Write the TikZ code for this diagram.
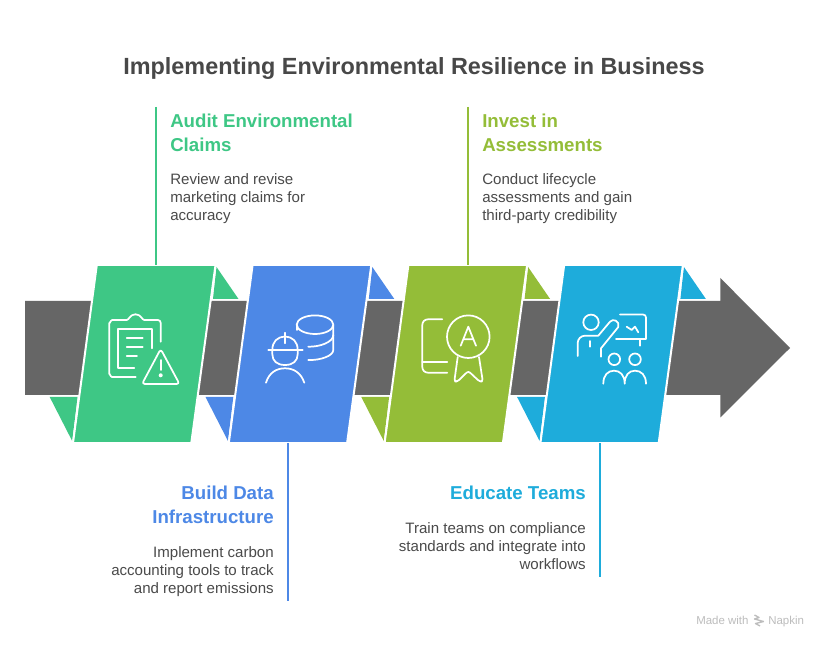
\documentclass[tikz,border=0pt]{standalone}
\usepackage{fontspec}
\setmainfont{Liberation Sans}
\definecolor{cgreen}{HTML}{3EC785}
\definecolor{cblue}{HTML}{4D88E6}
\definecolor{colive}{HTML}{94BD38}
\definecolor{ccyan}{HTML}{1EACDB}
\definecolor{cgray}{HTML}{666666}
\definecolor{ctitle}{HTML}{484848}
\definecolor{cbody}{HTML}{4A4A4A}
\definecolor{cmark}{HTML}{BDBDBD}
\newcommand{\hstrut}{\rule{0pt}{12pt}}
\newcommand{\bstrut}{\rule{0pt}{10pt}}
\tikzset{
  heading/.style={inner sep=0pt,font=\bfseries\fontsize{14pt}{18pt}\selectfont},
  headL/.style={heading,anchor=north west,align=left},
  headR/.style={heading,anchor=north east,align=right},
  bodytext/.style={inner sep=0pt,text=cbody,font=\fontsize{11.3pt}{13.5pt}\selectfont},
  bodyL/.style={bodytext,anchor=north west,align=left},
  bodyR/.style={bodytext,anchor=north east,align=right},
  leader/.style={line width=1.5pt},
  panel/.style={draw=white,line width=1.5pt,line join=miter},
  icon/.style={draw=white,line width=1.3pt,line cap=round,line join=round,fill=none},
  mark text/.style={inner sep=0pt,anchor=base west,text=cmark,font=\fontsize{8.6pt}{10pt}\selectfont},
}
\begin{document}
\begin{tikzpicture}[x=0.75pt,y=-0.75pt]
\useasboundingbox (0,0) rectangle (828,648);
\fill[white] (0,0) rectangle (828,648);
\node[inner sep=0pt,text=ctitle,font=\bfseries\fontsize{17.55pt}{22pt}\selectfont] (title) at (414,68.5) {Implementing Environmental Resilience in Business};

% arrow
\fill[cgray] (25,301) -- (720.3,301) -- (720.3,278) -- (790,348) -- (720.3,417.5) -- (720.3,395) -- (25,395) -- cycle;

% fold triangles and panels
\foreach \c/\d in {cgreen/0,cblue/155.8,colive/311.6,ccyan/467.4}{
  \fill[\c] (216.5+\d,267) -- (238.5+\d,299) -- (213+\d,299) -- cycle;
  \fill[\c] (49.7+\d,397) -- (77.5+\d,397) -- (72.2+\d,441) -- cycle;
  \draw[panel,fill=\c] (96.8+\d,265) -- (215.5+\d,265) -- (191.3+\d,443) -- (73+\d,443) -- cycle;
}

% connector ends
\coordinate (a1) at (156,107); \coordinate (a2) at (156,265);
\coordinate (b1) at (288,443); \coordinate (b2) at (288,600.5);
\coordinate (c1) at (468,107); \coordinate (c2) at (468,265);
\coordinate (d1) at (600,443); \coordinate (d2) at (600,576.5);
\draw[leader,cgreen] (a1) -- (a2);
\draw[leader,cblue] (b1) -- (b2);
\draw[leader,colive] (c1) -- (c2);
\draw[leader,ccyan] (d1) -- (d2);

% texts
\node[headL,text=cgreen] (ah) at (170,111) {\hstrut Audit Environmental\\\hstrut Claims};
\node[bodyL] (ab) at (170,170.5) {\bstrut Review and revise\\\bstrut marketing claims for\\\bstrut accuracy};
\node[headL,text=colive] (ch) at (482,111) {\hstrut Invest in\\\hstrut Assessments};
\node[bodyL] (cb) at (482,170.5) {\bstrut Conduct lifecycle\\\bstrut assessments and gain\\\bstrut third-party credibility};
\node[headR,text=cblue] (bh) at (274,483) {\hstrut Build Data\\\hstrut Infrastructure};
\node[bodyR] (bb) at (274,543.5) {\bstrut Implement carbon\\\bstrut accounting tools to track\\\bstrut and report emissions};
\node[headR,text=ccyan] (dh) at (586,483) {\hstrut Educate Teams};
\node[bodyR] (db) at (586,519.5) {\bstrut Train teams on compliance\\\bstrut standards and integrate into\\\bstrut workflows};

% icon 1
\draw[icon] (135.7,377) -- (112,377) to[out=180,in=90] (109.3,374) -- (109.3,323) to[out=-90,in=180] (112.3,320) -- (126.7,320) .. controls (129,320) and (130,314.3) .. (135.5,314.3) .. controls (141,314.3) and (142,320) .. (144.3,320) -- (158,320) to[out=0,in=90] (160.7,323) -- (160.7,341.7);
\draw[icon] (134.3,368.3) -- (118.3,368.3) -- (118.3,329) -- (152.3,329) -- (152.3,348.3);
\draw[icon] (126.7,338.3) -- (142.7,338.3) (126.7,347) -- (142.7,347) (126.7,356.3) -- (137,356.3);
\draw[icon,rounded corners=2.2pt] (160.7,349) -- (179.5,384) -- (142,384) -- cycle;
\draw[icon] (160.7,360) -- (160.7,370);
\fill[white] (160.7,375.3) circle[radius=2];

% icon 2
\draw[icon] (315,324.7) ellipse[x radius=18.3,y radius=9.3];
\draw[icon] (296.7,325) -- (296.7,330);
\draw[icon] (333.3,325) -- (333.3,350) .. controls (333.3,356) and (320,360.5) .. (308.3,360);
\draw[icon] (333.3,335) .. controls (333.3,342) and (320,347) .. (308.3,346.7);
\draw[icon] (272.3,350) .. controls (272.3,342) and (277,336.7) .. (285,336.7) .. controls (293,336.7) and (297.7,342) .. (297.7,350) -- (297.7,354) .. controls (297.7,361) and (293,365) .. (285,365) .. controls (277,365) and (272.3,361) .. (272.3,354) -- cycle;
\draw[icon] (268.3,350) -- (302.7,350) (285,332.7) -- (285,343.3);
\draw[icon] (266,382.7) .. controls (269,373) and (276,368.3) .. (285,368.3) .. controls (294,368.3) and (301,373) .. (304.3,382.7);

% icon 3
\draw[icon] (442.3,319.3) -- (428,319.3) to[out=180,in=90] (422.3,325) -- (422.3,367) to[out=-90,in=180] (428,372.7) -- (447.3,372.7);
\draw[icon] (422.3,361.7) -- (447.3,361.7);
\draw[icon] (468.3,336.7) circle[radius=21.3];
\draw[icon] (460.7,345.7) -- (468.3,326.7) -- (476,345.7) (463.2,339.3) -- (473.5,339.3);
\draw[icon,rounded corners=1.8pt] (457.7,357) -- (454.3,381.5) -- (457.5,381.5) -- (468.3,371) -- (479.5,381.5) -- (482.8,381.5) -- (479,357);

% icon 4
\draw[icon] (591,322.3) circle[radius=7.7];
\draw[icon] (577.7,356) -- (577.7,343) to[out=90,in=180] (585,335.7) -- (598.3,335.7) -- (610,321.7) .. controls (613,318) and (620,321) .. (618.3,327) -- (601,348.3) -- (601,356.7);
\draw[icon] (590,341) -- (590,346.7);
\draw[icon] (620,314.5) -- (643,314.5) to[out=0,in=90] (646,317.5) -- (646,339) -- (616,339);
\draw[icon] (640,339) -- (640,345.7);
\draw[icon] (626.7,326.7) -- (631.7,330) -- (635,326.7) -- (638.3,332.3);
\draw[icon] (614.3,359.3) circle[radius=5.8] (635,359.3) circle[radius=5.8];
\draw[icon] (603.3,383.7) .. controls (603.3,375) and (608,370.7) .. (614,370.7) .. controls (620,370.7) and (624.7,375) .. (624.7,383.7) .. controls (624.7,375) and (629,370.7) .. (635,370.7) .. controls (641,370.7) and (646,375) .. (646,383.7);

% watermark
\node[mark text] (made) at (696,624.5) {Made with};
\node[mark text] (napkin) at (768,624.5) {Napkin};
\draw[cmark,line width=1pt,line join=round] (754.5,615) -- (759,617.5) -- (754.5,619) -- (763.5,621.5) -- (755.5,623.5) -- (760,626);
\end{tikzpicture}
\end{document}
